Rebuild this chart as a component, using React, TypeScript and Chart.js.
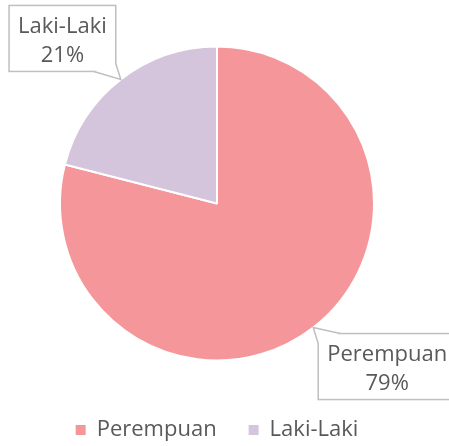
import React, { useEffect, useRef } from "react";
import { Chart, registerables } from "chart.js";

Chart.register(...registerables);

const categories = ["Perempuan", "Laki-Laki"];
const values = [79, 21];
const sliceColors = ["#F5979A", "#D4C5DC"];

const FONT = "'Open Sans', sans-serif";
const TEXT_COLOR = "#595959";
const FONT_SIZE = 22;

const calloutPlugin = {
  id: "callouts",
  afterDatasetsDraw(chart: any) {
    const ctx = chart.ctx;
    const meta = chart.getDatasetMeta(0);
    const data: number[] = chart.data.datasets[0].data;
    const labels: string[] = chart.data.labels;
    const total = data.reduce((a, b) => a + b, 0);
    ctx.save();
    ctx.font = `${FONT_SIZE}px ${FONT}`;
    meta.data.forEach((arc: any, i: number) => {
      const p = arc.getProps(["x", "y", "startAngle", "endAngle", "outerRadius"], true);
      const mid = (p.startAngle + p.endAngle) / 2;
      const ax = p.x + Math.cos(mid) * p.outerRadius;
      const ay = p.y + Math.sin(mid) * p.outerRadius;
      const line1 = labels[i];
      const line2 = Math.round((data[i] / total) * 100) + "%";
      const tw = Math.max(ctx.measureText(line1).width, ctx.measureText(line2).width);
      const w = tw + 18;
      const h = 66;
      const left = Math.cos(mid) < 0;
      const up = Math.sin(mid) < 0;
      const bx = left ? ax - 5 - w : ax + 5;
      const by = up ? ay - 8 - h : ay + 6;
      ctx.fillStyle = "#FFFFFF";
      ctx.strokeStyle = "#BFBFBF";
      ctx.lineWidth = 1.5;
      ctx.fillRect(bx, by, w, h);
      ctx.strokeRect(bx, by, w, h);
      const cx = left ? bx + w : bx;
      const cy = up ? by + h : by;
      const p1x = left ? cx - 22 : cx + 22;
      const p1y = cy;
      const p2x = cx;
      const p2y = up ? cy - 8 : cy + 10;
      ctx.beginPath();
      ctx.moveTo(p1x, p1y);
      ctx.lineTo(ax, ay);
      ctx.lineTo(p2x, p2y);
      ctx.closePath();
      ctx.fill();
      ctx.beginPath();
      ctx.moveTo(p1x, p1y);
      ctx.lineTo(ax, ay);
      ctx.lineTo(p2x, p2y);
      ctx.stroke();
      ctx.fillStyle = TEXT_COLOR;
      ctx.textAlign = "center";
      ctx.textBaseline = "middle";
      ctx.fillText(line1, bx + w / 2, by + 21);
      ctx.fillText(line2, bx + w / 2, by + 50);
    });
    ctx.restore();
  },
};

export default function App() {
  const ref = useRef<HTMLCanvasElement | null>(null);
  useEffect(() => {
    document.body.style.margin = "0";
    if (!ref.current) return;
    const chart = new Chart(ref.current, {
      type: "pie",
      data: {
        labels: categories,
        datasets: [
          {
            data: values,
            backgroundColor: sliceColors,
            borderColor: "#FFFFFF",
            borderWidth: 2,
            radius: 157,
          } as any,
        ],
      },
      options: {
        animation: false,
        responsive: false,
        maintainAspectRatio: false,
        layout: { padding: { top: 20, right: 15, left: 0, bottom: -5 } },
        plugins: {
          tooltip: { enabled: false },
          legend: {
            position: "bottom",
            labels: {
              color: TEXT_COLOR,
              font: { family: FONT, size: FONT_SIZE },
              boxWidth: 10,
              boxHeight: 10,
              padding: 32,
              generateLabels: (c: any) => {
                const base = (Chart as any).overrides.pie.plugins.legend.labels.generateLabels(c);
                return base.map((it: any) => ({ ...it, lineWidth: 0 }));
              },
            },
          },
        },
      },
      plugins: [calloutPlugin],
    });
    return () => chart.destroy();
  }, []);
  return (
    <div style={{ width: 449, height: 446 }}>
      <canvas ref={ref} width={449} height={446} style={{ display: "block" }} />
    </div>
  );
}
